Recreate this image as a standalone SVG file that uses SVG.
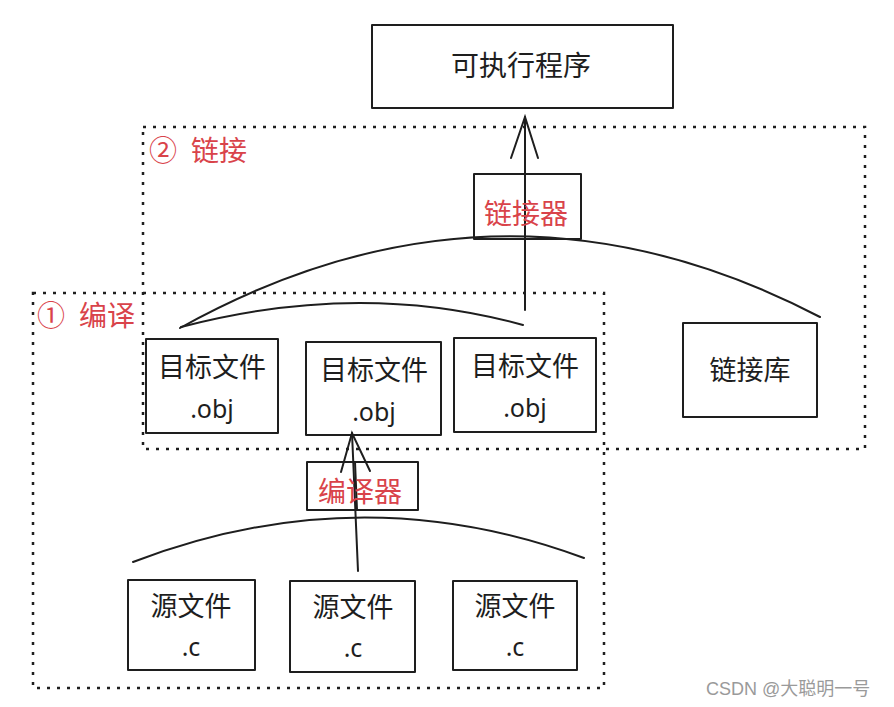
<svg xmlns="http://www.w3.org/2000/svg" width="894" height="707" viewBox="0 0 894 707">
<style>
.box{fill:none;stroke:#1e1e1e;stroke-width:2;stroke-linejoin:round}
.ln{fill:none;stroke:#1e1e1e;stroke-width:2;stroke-linecap:round}
.dot{fill:none;stroke:#1e1e1e;stroke-width:2.5;stroke-dasharray:3 7}
.t{font-family:"Noto Sans CJK SC","Noto Sans",sans-serif;font-size:27px;fill:#1e1e1e;text-anchor:middle}
.s{font-family:"Noto Sans","Noto Sans CJK SC",sans-serif;font-size:25px;fill:#1e1e1e;text-anchor:middle}
.r{font-family:"Noto Sans CJK SC","Noto Sans",sans-serif;font-size:28px;fill:#d9434a}
.wm{font-family:"Liberation Sans","Noto Sans CJK SC",sans-serif;font-size:18px;fill:#9a9a9a}
</style>
<rect width="894" height="707" fill="#ffffff"/>
<g id="regions">
<rect class="dot" x="143" y="127" width="722" height="322"/>
<rect class="dot" x="33" y="293" width="571" height="395"/>
<text class="r" x="149" y="161">②</text>
<text class="r" x="191" y="161">链接</text>
<text class="r" x="37" y="326">①</text>
<text class="r" x="79" y="326">编译</text>
</g>
<g id="connectors">
<path class="ln" d="M180 328 Q500 150 820 317"/>
<path class="ln" d="M181 327 Q360 280 523 325"/>
<path class="ln" d="M525 310 L525 117"/>
<path class="ln" d="M511 158 L525 117 L538 158"/>
<path class="ln" d="M133 562 Q360 475 584 558"/>
<path class="ln" d="M358 571 L352 433"/>
<path class="ln" d="M341 472 L352 433 L370 471"/>
</g>
<g id="exe">
<rect class="box" x="372" y="25" width="301" height="83"/>
<text class="t" x="521" y="76" style="font-size:28px">可执行程序</text>
</g>
<g id="linker">
<rect class="box" x="474" y="174" width="107" height="65" fill="#fff"/>
<path class="ln" d="M525 174 L525 239"/>
<text class="r" x="526" y="224" text-anchor="middle">链接器</text>
</g>
<g id="obj1">
<rect class="box" x="146" y="339" width="132" height="94"/>
<text class="t" x="212" y="377">目标文件</text>
<text class="s" x="212" y="418">.obj</text>
</g>
<g id="obj2">
<rect class="box" x="306" y="342" width="135" height="93"/>
<text class="t" x="374" y="380">目标文件</text>
<text class="s" x="374" y="421">.obj</text>
</g>
<g id="obj3">
<rect class="box" x="454" y="338" width="142" height="94"/>
<text class="t" x="525" y="376">目标文件</text>
<text class="s" x="525" y="417">.obj</text>
</g>
<g id="lib">
<rect class="box" x="683" y="323" width="134" height="94"/>
<text class="t" x="750" y="380">链接库</text>
</g>
<g id="compiler">
<rect class="box" x="307" y="462" width="111" height="48" fill="#fff"/>
<path class="ln" d="M355 462 L357 510"/>
<text class="r" x="360" y="502" text-anchor="middle">编译器</text>
</g>
<g id="src1">
<rect class="box" x="128" y="580" width="127" height="90"/>
<text class="t" x="191" y="616">源文件</text>
<text class="s" x="191" y="656">.c</text>
</g>
<g id="src2">
<rect class="box" x="290" y="581" width="125" height="91"/>
<text class="t" x="353" y="617">源文件</text>
<text class="s" x="353" y="657">.c</text>
</g>
<g id="src3">
<rect class="box" x="453" y="581" width="124" height="89"/>
<text class="t" x="515" y="616">源文件</text>
<text class="s" x="515" y="656">.c</text>
</g>
<text class="wm" x="706" y="695">CSDN @大聪明一号</text>
</svg>
